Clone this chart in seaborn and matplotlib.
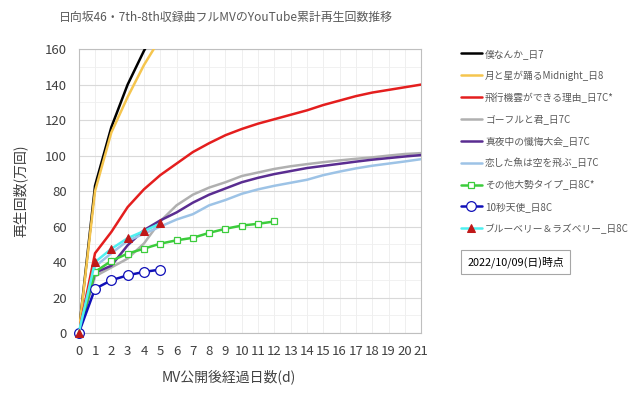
import matplotlib
matplotlib.use("Agg")
import matplotlib.pyplot as plt
import numpy as np
import pandas as pd
import seaborn as sns
from matplotlib.ticker import MultipleLocator

# cumulative views (10k) per day after MV release
bokunanka = [0, 83, 116, 140, 159, 175]
tsuki_hoshi = [0, 80, 113, 133, 151, 166]
hikoukigumo = [0, 45, 57, 71, 81, 89, 95.5, 102, 107, 111.5, 115, 118, 120.5,
               123, 125.5, 128.5, 131, 133.5, 135.5, 137, 138.5, 140]
gofuru = [0, 32, 37, 42, 50.5, 63, 72, 78, 82, 85, 88.5, 90.5, 92.5, 94,
          95.2, 96.3, 97.3, 98.2, 99, 100, 100.9, 101.4]
mayonaka = [0, 34, 38, 49.5, 58, 63.5, 68, 73.5, 78, 81.5, 85, 87.5, 89.6,
            91.3, 93, 94.2, 95.4, 96.6, 97.7, 98.6, 99.5, 100.3]
koishita = [0, 37.5, 45, 52, 56, 60, 64, 67, 72, 75, 78.5, 81, 83, 84.7,
            86.4, 89, 91, 92.8, 94.3, 95.5, 96.7, 98]
sonota = [0, 34.5, 40.7, 44.8, 47.6, 50.4, 52.3, 53.7, 56.5, 58.8, 60.6, 61.6, 62.9]
juubyou = [0, 25, 29.8, 32.6, 34.5, 35.8]
blueberry = [0, 40, 47.5, 53.5, 57.5, 61.8]

labels = ["僕なんか_日7", "月と星が踊るMidnight_日8", "飛行機雲ができる理由_日7C*",
          "ゴーフルと君_日7C", "真夜中の懺悔大会_日7C", "恋した魚は空を飛ぶ_日7C",
          "その他大勢タイプ_日8C*", "10秒天使_日8C", "ブルーベリー＆ラズベリー_日8C"]
series = [bokunanka, tsuki_hoshi, hikoukigumo, gofuru, mayonaka, koishita,
          sonota, juubyou, blueberry]
colors = ["#000000", "#f5c54e", "#e41e1e", "#b0b0b0", "#5a2d91", "#9dc3e6",
          "#3ccc3c", "#1010b8", "#4ff0f0"]

sns.set_style("white")
plt.rcParams['font.family'] = ['Noto Sans CJK JP', 'DejaVu Sans']

fig = plt.figure(figsize=(6.4, 3.99), dpi=100)
ax = fig.add_axes([0.123, 0.165, 0.535, 0.712])

for lab, vals, col in zip(labels, series, colors):
    df = pd.DataFrame({"day": np.arange(len(vals)), "views": vals})
    kw = dict(color=col, linewidth=1.8, label=lab, ax=ax, zorder=3)
    if lab.startswith("その他"):
        kw.update(marker="s", markersize=5, markerfacecolor="white",
                  markeredgecolor=col, markeredgewidth=0.9, clip_on=False)
    elif lab.startswith("10秒"):
        kw.update(marker="o", markersize=7, markerfacecolor="white",
                  markeredgecolor=col, markeredgewidth=0.9, clip_on=False)
    elif lab.startswith("ブルーベリー"):
        kw.update(marker="^", markersize=6, markerfacecolor="#c01818",
                  markeredgecolor="#c01818", clip_on=False)
    sns.lineplot(data=df, x="day", y="views", **kw)

ax.set_xlim(0, 21)
ax.set_ylim(0, 160)
ax.xaxis.set_major_locator(MultipleLocator(1))
ax.yaxis.set_major_locator(MultipleLocator(20))
ax.yaxis.set_minor_locator(MultipleLocator(10))
ax.grid(which="major", axis="y", color="#d9d9d9", linewidth=0.8)
ax.grid(which="minor", axis="y", color="#efefef", linewidth=0.6)
ax.grid(which="major", axis="x", color="#ececec", linewidth=0.6)
ax.set_axisbelow(True)
for s in ax.spines.values():
    s.set_color("#bfbfbf")
    s.set_linewidth(0.8)
ax.tick_params(axis="both", which="major", direction="out", length=3.5,
               color="#bfbfbf", labelsize=9.5, labelcolor="#404040")
ax.tick_params(axis="x", which="major", pad=5)
ax.tick_params(axis="y", which="major", pad=5)
ax.tick_params(axis="both", which="minor", length=0)

ax.set_xlabel("MV公開後経過日数(d)", fontsize=10, color="#404040")
ax.set_ylabel("再生回数(万回)", fontsize=10, color="#404040")
ax.xaxis.set_label_coords(0.439, -0.127)
ax.yaxis.set_label_coords(-0.149, 0.5)
fig.text(0.353, 0.955, "日向坂46・7th-8th収録曲フルMVのYouTube累計再生回数推移",
         ha="center", va="center", fontsize=8.6, color="#595959")

leg = ax.legend(loc="upper left", bbox_to_anchor=(0.72, 0.878),
                bbox_transform=fig.transFigure, frameon=False, fontsize=7,
                labelspacing=1.2, handlelength=2.2, handletextpad=0.3,
                borderpad=0, borderaxespad=0)
for t in leg.get_texts():
    t.set_color("#595959")

fig.text(0.73, 0.343, "2022/10/09(日)時点", fontsize=7.8, color="#000000",
         ha="left", va="center",
         bbox=dict(boxstyle="square,pad=0.6", facecolor="white",
                   edgecolor="#a6a6a6", linewidth=0.8))

fig.savefig("out.png", dpi=100)
